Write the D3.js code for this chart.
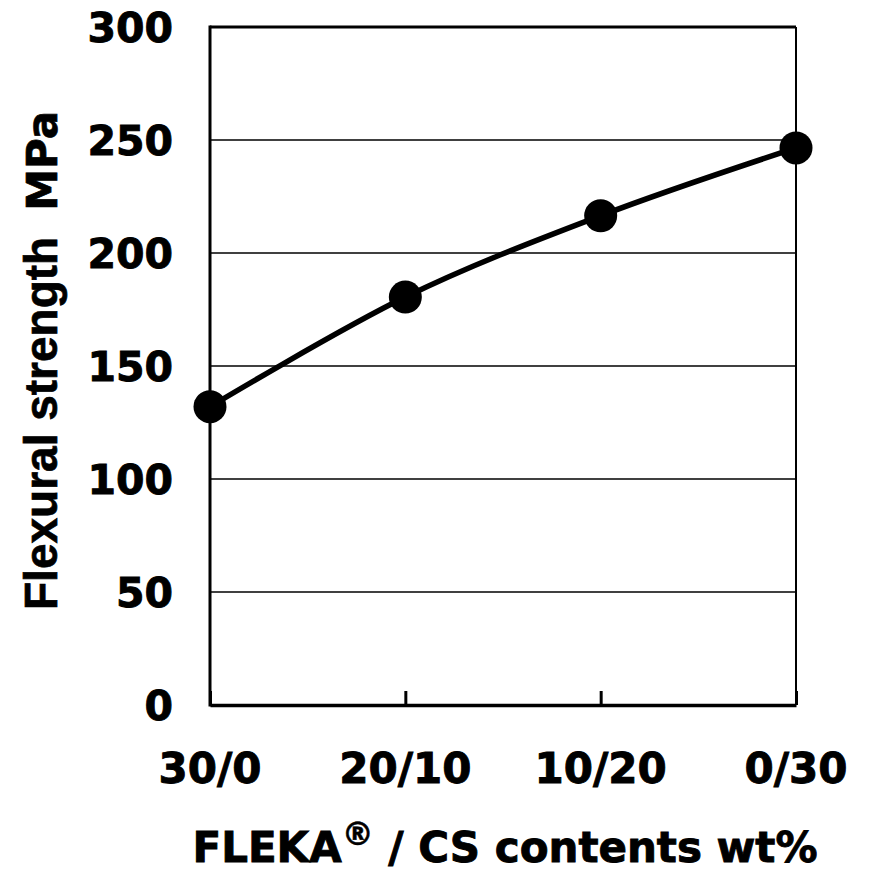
<!DOCTYPE html>
<html>
<head>
<meta charset="utf-8">
<script src="https://cdn.jsdelivr.net/npm/d3@7/dist/d3.min.js"></script>
<style>
  html, body { margin: 0; padding: 0; background: #fff; }
  svg { display: block; }
</style>
</head>
<body>
<svg id="chart" width="872" height="871"></svg>
<script>
const categories = ["30/0", "20/10", "10/20", "0/30"];
const strength = [132, 180.5, 216.5, 246.5];
const yTicks = [0, 50, 100, 150, 200, 250, 300];

const svg = d3.select("#chart");
const pLeft = 210, pRight = 796, pTop = 27, pBottom = 705;

const x = d3.scalePoint().domain(categories).range([pLeft, pRight]);
const y = d3.scaleLinear().domain([0, 300]).range([pBottom, pTop]);

const numFont = "'DejaVu Sans', Verdana, sans-serif";

// gridlines
svg.append("g").selectAll("line").data(yTicks.filter(d => d > 0 && d < 300)).join("line")
  .attr("x1", pLeft).attr("x2", pRight)
  .attr("y1", d => y(d)).attr("y2", d => y(d))
  .attr("stroke", "#000").attr("stroke-width", 1.6);

// frame
svg.append("line").attr("x1", pLeft).attr("x2", pRight).attr("y1", pTop).attr("y2", pTop)
  .attr("stroke", "#000").attr("stroke-width", 3);
svg.append("line").attr("x1", pRight).attr("x2", pRight).attr("y1", pTop).attr("y2", pBottom)
  .attr("stroke", "#000").attr("stroke-width", 2);
svg.append("line").attr("x1", pLeft).attr("x2", pLeft).attr("y1", pTop - 1.5).attr("y2", pBottom + 1.5)
  .attr("stroke", "#000").attr("stroke-width", 3);

// bottom axis with inward ticks
const xAxis = d3.axisBottom(x).tickSizeInner(-14).tickSizeOuter(0).tickFormat("");
const gx = svg.append("g").attr("transform", `translate(0,${pBottom})`).call(xAxis);
gx.select(".domain").attr("stroke", "#000").attr("stroke-width", 3.5);
gx.selectAll(".tick line").attr("stroke", "#000").attr("stroke-width", 3);

// x tick labels
svg.append("g").selectAll("text").data(categories).join("text")
  .attr("x", d => x(d)).attr("y", 783)
  .attr("text-anchor", "middle")
  .attr("font-family", numFont).attr("font-weight", "bold").attr("font-size", 42)
  .attr("stroke", "#000").attr("stroke-width", 0.9)
  .text(d => d);

// y tick labels
const yAxis = d3.axisLeft(y).tickValues(yTicks).tickSize(0).tickPadding(37);
const gy = svg.append("g").attr("transform", `translate(${pLeft},0)`).call(yAxis);
gy.select(".domain").remove();
gy.selectAll("text").attr("font-family", numFont).attr("font-weight", "bold")
  .attr("font-size", 41).attr("fill", "#000").attr("dy", "0.36em")
  .attr("stroke", "#000").attr("stroke-width", 0.9);

// line
const line = d3.line().x((d, i) => x(categories[i])).y(d => y(d)).curve(d3.curveCardinal);
svg.append("path").datum(strength).attr("d", line)
  .attr("fill", "none").attr("stroke", "#000").attr("stroke-width", 5.5);

// markers
svg.append("g").selectAll("circle").data(strength).join("circle")
  .attr("cx", (d, i) => x(categories[i])).attr("cy", d => y(d)).attr("r", 16.5)
  .attr("fill", "#000");

// y title
const yt = svg.append("text")
  .attr("transform", "translate(57,610) rotate(-90)")
  .attr("text-anchor", "start")
  .attr("font-weight", "bold")
  .attr("stroke", "#000").attr("stroke-width", 0.7);
yt.append("tspan").attr("font-family", "'Liberation Sans', Arial, sans-serif").attr("font-size", 46)
  .text("Flexural strength");
yt.append("tspan").attr("font-family", numFont).attr("font-size", 42).attr("dx", 26)
  .text("MPa");

// x title
const xt = svg.append("text")
  .attr("x", 505).attr("y", 862)
  .attr("text-anchor", "middle")
  .attr("font-family", numFont).attr("font-weight", "bold").attr("font-size", 42)
  .attr("stroke", "#000").attr("stroke-width", 0.9);
xt.append("tspan").text("FLEKA");
xt.append("tspan").attr("font-size", 32).attr("dy", -17).attr("stroke-width", 0.5).text("®");
xt.append("tspan").attr("dy", 17).text(" / CS contents wt%");
</script>
</body>
</html>
